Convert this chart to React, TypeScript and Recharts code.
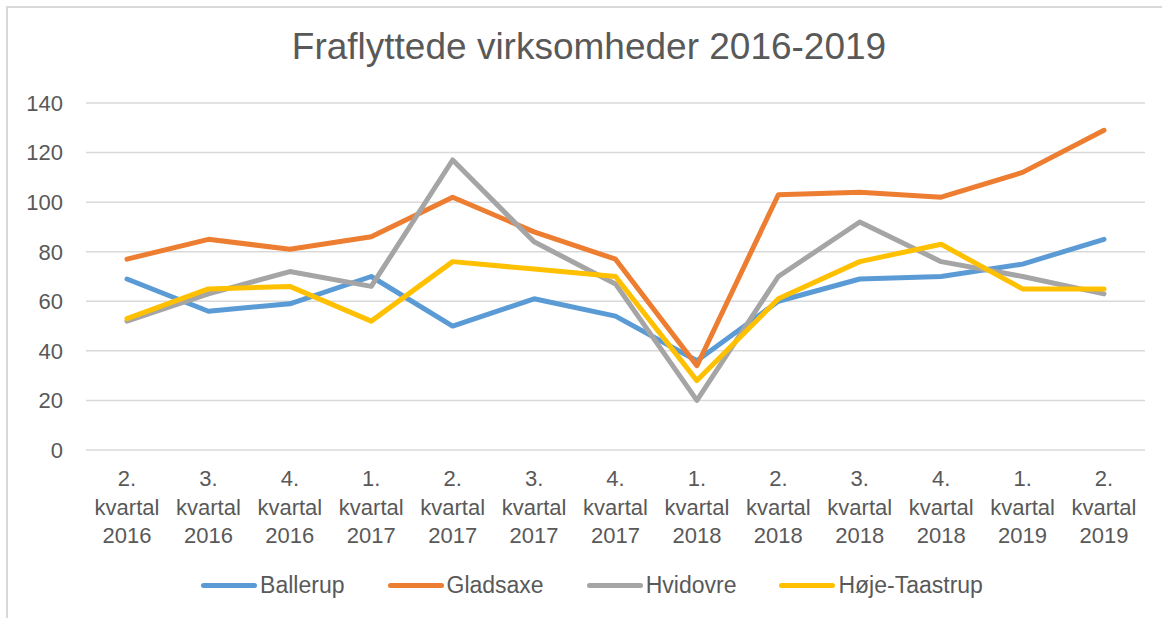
import React from "react";
import {
  LineChart,
  Line,
  XAxis,
  YAxis,
  CartesianGrid,
  Legend,
} from "recharts";

const quarters = [
  "2. kvartal 2016",
  "3. kvartal 2016",
  "4. kvartal 2016",
  "1. kvartal 2017",
  "2. kvartal 2017",
  "3. kvartal 2017",
  "4. kvartal 2017",
  "1. kvartal 2018",
  "2. kvartal 2018",
  "3. kvartal 2018",
  "4. kvartal 2018",
  "1. kvartal 2019",
  "2. kvartal 2019",
];

const ballerup = [69, 56, 59, 70, 50, 61, 54, 36, 60, 69, 70, 75, 85];
const gladsaxe = [77, 85, 81, 86, 102, 88, 77, 34, 103, 104, 102, 112, 129];
const hvidovre = [52, 63, 72, 66, 117, 84, 67, 20, 70, 92, 76, 70, 63];
const hojeTaastrup = [53, 65, 66, 52, 76, 73, 70, 28, 61, 76, 83, 65, 65];

const yTicks = [0, 20, 40, 60, 80, 100, 120, 140];

const series = [
  { key: "Ballerup", color: "#5B9BD5", values: ballerup },
  { key: "Gladsaxe", color: "#ED7D31", values: gladsaxe },
  { key: "Hvidovre", color: "#A5A5A5", values: hvidovre },
  { key: "Høje-Taastrup", color: "#FFC000", values: hojeTaastrup },
];

const data = quarters.map((q, i) => {
  const row: Record<string, string | number> = { quarter: q };
  series.forEach((s) => {
    row[s.key] = s.values[i];
  });
  return row;
});

const FONT = "'Liberation Sans', Arial, sans-serif";
const TEXT = "#595959";

function QuarterTick(props: any) {
  const { x, y, payload } = props;
  const lines = String(payload.value).split(" ");
  return (
    <text
      x={x}
      y={y}
      textAnchor="middle"
      fill={TEXT}
      fontSize={22}
      fontFamily={FONT}
    >
      {lines.map((l, i) => (
        <tspan key={i} x={x} dy={i === 0 ? 28 : 28.5}>
          {l}
        </tspan>
      ))}
    </text>
  );
}

function LegendRow() {
  return (
    <div
      style={{
        height: 40,
        display: "flex",
        alignItems: "center",
        justifyContent: "center",
        gap: 43,
        paddingLeft: 22,
        fontFamily: FONT,
        fontSize: 23,
        color: TEXT,
      }}
    >
      {series.map((s) => (
        <div key={s.key} style={{ display: "flex", alignItems: "center" }}>
          <div
            style={{
              width: 56,
              height: 5,
              borderRadius: 3,
              background: s.color,
              marginRight: 3,
            }}
          />
          <span>{s.key}</span>
        </div>
      ))}
    </div>
  );
}

export default function App() {
  return (
    <div
      style={{
        position: "fixed",
        left: 0,
        top: 0,
        width: 1162,
        height: 618,
        background: "#fff",
      }}
    >
      <div
        style={{
          position: "absolute",
          left: 6,
          top: 6,
          width: 1156,
          height: 612,
          borderTop: "2px solid #d9d9d9",
          borderLeft: "2px solid #d9d9d9",
          boxSizing: "border-box",
        }}
      />
      <svg
        width={1162}
        height={80}
        style={{ position: "absolute", left: 0, top: 0 }}
      >
        <text
          x={589}
          y={59}
          textAnchor="middle"
          fill={TEXT}
          fontSize={37}
          fontFamily={FONT}
        >
          Fraflyttede virksomheder 2016-2019
        </text>
      </svg>
      <div style={{ position: "absolute", left: 0, top: 0 }}>
        <LineChart
          width={1162}
          height={618}
          data={data}
          margin={{ top: 103, right: 17, bottom: 13, left: 8 }}
        >
          <CartesianGrid
            vertical={false}
            stroke="#d9d9d9"
            strokeWidth={1.5}
          />
          <XAxis
            dataKey="quarter"
            interval={0}
            height={115}
            axisLine={false}
            tickLine={false}
            padding={{ left: 41, right: 41 }}
            tick={<QuarterTick />}
          />
          <YAxis
            width={78}
            domain={[0, 140]}
            ticks={yTicks}
            axisLine={false}
            tickLine={false}
            tickMargin={17}
            tick={{ fill: TEXT, fontSize: 22, fontFamily: FONT }}
          />
          <Legend
            verticalAlign="bottom"
            height={40}
            wrapperStyle={{ left: 0, width: 1162 }}
            content={() => <LegendRow />}
          />
          {series.map((s) => (
            <Line
              key={s.key}
              type="linear"
              dataKey={s.key}
              stroke={s.color}
              strokeWidth={5}
              strokeLinecap="round"
              strokeLinejoin="round"
              dot={false}
              activeDot={false}
              isAnimationActive={false}
            />
          ))}
        </LineChart>
      </div>
    </div>
  );
}
